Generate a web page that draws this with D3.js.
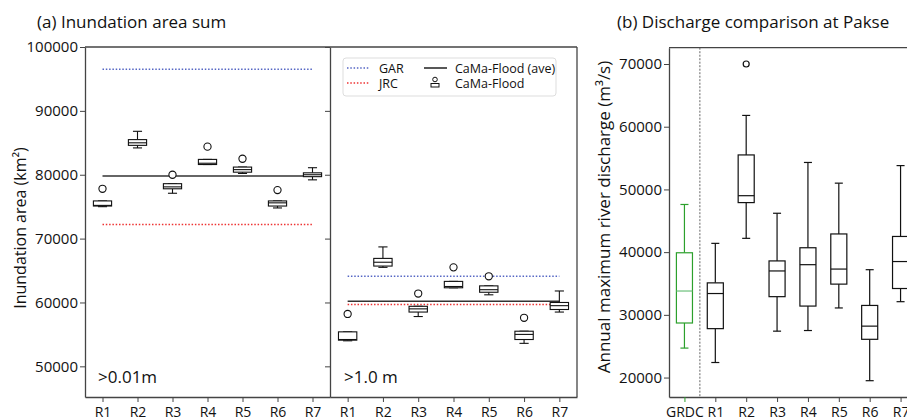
<!DOCTYPE html>
<html>
<head>
<meta charset="utf-8">
<script src="https://cdn.jsdelivr.net/npm/d3@7"></script>
<style>
  body { margin: 0; background: #fff; }
  svg text { font-family: "Open Sans", sans-serif; fill: #111; }
</style>
</head>
<body>
<div class="canvas"></div>
<script>
// data: box stats are [whisker low, q1, median, q3, whisker high]
const regions = ["R1", "R2", "R3", "R4", "R5", "R6", "R7"];
const area001Stats = [
  [75000, 75100, 75200, 75900, 75900],
  [84200, 84600, 85000, 85500, 86800],
  [77100, 77800, 78100, 78600, 78600],
  [81600, 81600, 81800, 82400, 82400],
  [80200, 80400, 80800, 81200, 81200],
  [74800, 75100, 75600, 75900, 75900],
  [79200, 79700, 80000, 80300, 81100]
];
const area001Fliers = [[77800], [], [80000], [84400], [82500], [77600], []];
const area10Stats = [
  [54000, 54100, 54200, 55400, 55400],
  [65500, 65700, 66300, 66900, 68700],
  [57800, 58500, 59000, 59400, 59400],
  [62300, 62300, 62500, 63300, 63300],
  [61200, 61600, 62000, 62600, 62600],
  [53600, 54200, 55000, 55500, 55500],
  [58500, 58900, 59500, 60000, 61800]
];
const area10Fliers = [[58200], [], [61400], [65500], [64100], [57600], []];
const garArea = [96500, 64100];
const jrcArea = [72200, 59700];
const camaAveArea = [79800, 60200];
const areaTicks = [50000, 60000, 70000, 80000, 90000, 100000];

const dischargeLabels = ["GRDC", "R1", "R2", "R3", "R4", "R5", "R6", "R7"];
const dischargeStats = [
  [24700, 28700, 33800, 39900, 47600],
  [22400, 27800, 33400, 35100, 41400],
  [42200, 47900, 49000, 55500, 61800],
  [27400, 32900, 37000, 38600, 46200],
  [27500, 31400, 38000, 40700, 54300],
  [31100, 34900, 37300, 42900, 51000],
  [19500, 26100, 28200, 31500, 37200],
  [32100, 34200, 38500, 42500, 53800]
];
const dischargeFliers = [[], [], [70000], [], [], [], [], []];
const dischargeTicks = [20000, 30000, 40000, 50000, 60000, 70000];

// layout
const w = 907;
const h = 420;
const plotTop = 47;
const plotBottom = 397;
const frameColor = "#444";
const green = "#2ca02c";
const fmt = d3.format("d");

const svg = d3.select(".canvas").append("svg").attr("width", w).attr("height", h);

// ---------- (a) inundation area ----------
const yArea = d3.scaleLinear().domain([45200, 100000]).range([plotBottom, plotTop]);
const xA = d3.scalePoint().domain(regions).range([85, 330]).padding(0.5);
const xB = d3.scalePoint().domain(regions).range([330, 577]).padding(0.5);

function styleAxis(g, size) {
  g.selectAll("path").attr("stroke", frameColor).attr("stroke-width", 1.3);
  g.selectAll("line").attr("stroke", frameColor).attr("stroke-width", 1);
  g.selectAll("text").attr("font-size", size).attr("fill", "#111");
}

// left y-axis
svg.append("g")
  .attr("transform", "translate(85,0)")
  .call(d3.axisLeft(yArea).tickValues(areaTicks).tickFormat(fmt).tickSize(5).tickSizeOuter(0).tickPadding(2))
  .call((g) => styleAxis(g, 15));

// divider with inward ticks
svg.append("g")
  .attr("transform", "translate(330,0)")
  .call(d3.axisLeft(yArea).tickValues(areaTicks).tickSize(5).tickSizeOuter(0).tickFormat(""))
  .call((g) => styleAxis(g, 15));

// x axes
[xA, xB].forEach((xs) => {
  svg.append("g")
    .attr("transform", `translate(0,${plotBottom})`)
    .call(d3.axisBottom(xs).tickSize(5).tickSizeOuter(0).tickPadding(5))
    .call((g) => styleAxis(g, 14));
});

// frame top and right
svg.append("line").attr("x1", 85).attr("x2", 577).attr("y1", plotTop).attr("y2", plotTop)
  .attr("stroke", frameColor).attr("stroke-width", 1.3);
svg.append("line").attr("x1", 577).attr("x2", 577).attr("y1", plotTop).attr("y2", plotBottom)
  .attr("stroke", frameColor).attr("stroke-width", 1.3);

function drawBoxes(g, xs, y, cats, stats, fliers, opts) {
  const step = xs.step();
  const bw = step * 0.52;
  cats.forEach((c, i) => {
    const [lo, q1, med, q3, hi] = stats[i];
    const cx = xs(c);
    const col = opts.colors ? opts.colors[i] : "#111";
    const b = g.append("g").attr("stroke", col).attr("stroke-width", opts.sw).attr("fill", "none");
    b.append("line").attr("x1", cx).attr("x2", cx).attr("y1", y(q3)).attr("y2", y(hi));
    b.append("line").attr("x1", cx).attr("x2", cx).attr("y1", y(q1)).attr("y2", y(lo));
    b.append("line").attr("x1", cx - bw / 4).attr("x2", cx + bw / 4).attr("y1", y(hi)).attr("y2", y(hi));
    b.append("line").attr("x1", cx - bw / 4).attr("x2", cx + bw / 4).attr("y1", y(lo)).attr("y2", y(lo));
    b.append("rect").attr("x", cx - bw / 2).attr("width", bw)
      .attr("y", y(q3)).attr("height", y(q1) - y(q3)).attr("fill", "#fff");
    b.append("line").attr("x1", cx - bw / 2).attr("x2", cx + bw / 2).attr("y1", y(med)).attr("y2", y(med))
      .attr("stroke", opts.medColors ? opts.medColors[i] : col);
    fliers[i].forEach((f) => {
      b.append("circle").attr("cx", cx).attr("cy", y(f)).attr("r", opts.r).attr("fill", "#fff");
    });
  });
}

function refLine(xs, v, color, dash, sw) {
  svg.append("line")
    .attr("x1", xs(regions[0])).attr("x2", xs(regions[regions.length - 1]))
    .attr("y1", yArea(v)).attr("y2", yArea(v))
    .attr("stroke", color).attr("stroke-width", sw)
    .attr("stroke-dasharray", dash);
}

[xA, xB].forEach((xs, k) => {
  refLine(xs, garArea[k], "#5566c4", "1.5,1.8", 1.5);
  refLine(xs, jrcArea[k], "#ee3333", "1.5,1.8", 1.5);
});
refLine(xA, camaAveArea[0], "#333", null, 1.6);
refLine(xB, camaAveArea[1], "#333", null, 1.6);

drawBoxes(svg.append("g"), xA, yArea, regions, area001Stats, area001Fliers, { sw: 1.1, r: 3.6 });
drawBoxes(svg.append("g"), xB, yArea, regions, area10Stats, area10Fliers, { sw: 1.1, r: 3.6 });

// threshold labels
svg.append("text").attr("x", 98).attr("y", 383).attr("font-size", 17).text(">0.01m");
svg.append("text").attr("x", 344).attr("y", 383).attr("font-size", 17).text(">1.0 m");

// legend
const legend = svg.append("g").attr("transform", "translate(343,58)");
legend.append("rect").attr("width", 213).attr("height", 38).attr("rx", 3)
  .attr("fill", "#fff").attr("stroke", "#ddd");
legend.append("line").attr("x1", 4).attr("x2", 26).attr("y1", 10).attr("y2", 10)
  .attr("stroke", "#5566c4").attr("stroke-width", 1.3).attr("stroke-dasharray", "1.5,1.8");
legend.append("line").attr("x1", 4).attr("x2", 26).attr("y1", 25).attr("y2", 25)
  .attr("stroke", "#ee3333").attr("stroke-width", 1.3).attr("stroke-dasharray", "1.5,1.8");
legend.append("text").attr("x", 36).attr("y", 14.5).attr("font-size", 12.5).text("GAR");
legend.append("text").attr("x", 36).attr("y", 30).attr("font-size", 12.5).text("JRC");
legend.append("line").attr("x1", 81).attr("x2", 104).attr("y1", 10).attr("y2", 10)
  .attr("stroke", "#111").attr("stroke-width", 1.4);
legend.append("circle").attr("cx", 92).attr("cy", 21.5).attr("r", 2.3)
  .attr("fill", "#fff").attr("stroke", "#111").attr("stroke-width", 1);
legend.append("rect").attr("x", 88).attr("y", 25.5).attr("width", 8).attr("height", 3.5)
  .attr("fill", "#fff").attr("stroke", "#111").attr("stroke-width", 1);
legend.append("text").attr("x", 112).attr("y", 14.5).attr("font-size", 12.5).text("CaMa-Flood (ave)");
legend.append("text").attr("x", 112).attr("y", 30).attr("font-size", 12.5).text("CaMa-Flood");

// titles and labels
svg.append("text").attr("x", 37).attr("y", 28).attr("font-size", 17).text("(a) Inundation area sum");
svg.append("text")
  .attr("transform", "translate(26,228) rotate(-90)")
  .attr("text-anchor", "middle").attr("font-size", 16)
  .text("Inundation area (km\u00b2)");

// ---------- (b) discharge ----------
const yQ = d3.scaleLinear().domain([16900, 72600]).range([plotBottom, 47.7]);
const xQ = d3.scalePoint().domain(dischargeLabels).range([669, 916]).padding(0.5);

svg.append("g")
  .attr("transform", "translate(669,0)")
  .call(d3.axisLeft(yQ).tickValues(dischargeTicks).tickFormat(fmt).tickSize(5).tickSizeOuter(0).tickPadding(2))
  .call((g) => styleAxis(g, 15));

svg.append("g")
  .attr("transform", `translate(0,${plotBottom})`)
  .call(d3.axisBottom(xQ).tickSize(5).tickSizeOuter(0).tickPadding(5))
  .call((g) => styleAxis(g, 14))
  .call((g) => g.selectAll(".tick text").attr("fill", (d) => (d === "GRDC" ? green : "#111")))
  .call((g) => g.selectAll(".tick line").attr("stroke", (d) => (d === "GRDC" ? green : frameColor)));

svg.append("line").attr("x1", 669).attr("x2", w).attr("y1", 47.7).attr("y2", 47.7)
  .attr("stroke", frameColor).attr("stroke-width", 1.3);

// dashed separator between observation and simulations
const sepX = (xQ("GRDC") + xQ("R1")) / 2;
svg.append("line").attr("x1", sepX).attr("x2", sepX).attr("y1", 47.7).attr("y2", plotBottom)
  .attr("stroke", "#555").attr("stroke-width", 0.9).attr("stroke-dasharray", "2,1.5");

const boxColors = dischargeLabels.map((d) => (d === "GRDC" ? green : "#111"));
const medColors = dischargeLabels.map((d) => (d === "GRDC" ? "#6cc07a" : "#111"));
drawBoxes(svg.append("g"), xQ, yQ, dischargeLabels, dischargeStats, dischargeFliers,
  { sw: 1.2, r: 3, colors: boxColors, medColors: medColors });

svg.append("text").attr("x", 617).attr("y", 28).attr("font-size", 17).text("(b) Discharge comparison at Pakse");
svg.append("text")
  .attr("transform", "translate(610,217) rotate(-90)")
  .attr("text-anchor", "middle").attr("font-size", 17)
  .text("Annual maximum river discharge (m\u00b3/s)");
</script>
</body>
</html>
